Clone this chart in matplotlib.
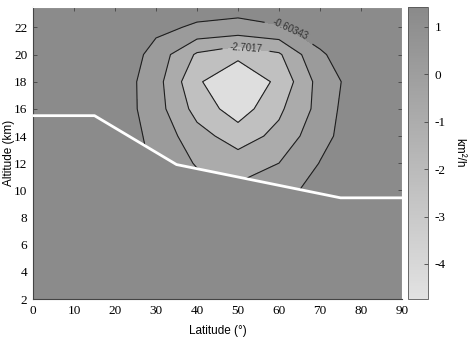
import matplotlib
matplotlib.use("Agg")
import matplotlib.pyplot as plt
import numpy as np
from matplotlib.cm import ScalarMappable
from matplotlib.colors import LinearSegmentedColormap, Normalize

plt.rcParams["axes.unicode_minus"] = False

LAT = [0, 10, 20, 30, 40, 50, 60, 70, 80, 90]
ALT = [2, 4, 6, 8, 10, 12, 14, 16, 18, 20, 22, 24]
# diffusivity (km^2/h), one row per altitude, one column per latitude
K_2 = [1.42, 1.3, 1.2, 1.1, 1.0, 1.0, 1.0, 1.1, 1.2, 1.3]
K_4 = [1.3, 1.2, 1.0, 0.8, 0.6, 0.6, 0.7, 0.9, 1.1, 1.2]
K_6 = [1.1, 1.0, 0.8, 0.5, 0.3, 0.3, 0.4, 0.6, 0.8, 1.0]
K_8 = [1.0, 0.8, 0.5, 0.1, -0.2, -0.25, -0.2, 0.2, 0.5, 0.8]
K_10 = [0.9, 0.7, 0.3, -0.4, -1.2, -1.42, -1.0, -0.2, 0.3, 0.7]
K_12 = [0.8, 0.5, 0.2, -0.78, -1.75, -2.2, -1.65, -0.57, 0.2, 0.6]
K_14 = [0.8, 0.5, 0.05, -0.91, -2.31, -3.2, -2.41, -0.93, 0.06, 0.6]
K_16 = [0.8, 0.6, 0.1, -1.2, -3.08, -4.3, -2.9, -1.3, 0.32, 0.6]
K_18 = [0.8, 0.6, 0.1, -1.23, -3.6, -4.7, -3.5, -1.25, 0.0, 0.5]
K_20 = [0.6, 0.5, 0.3, -1.0, -2.85, -3.47, -2.85, -0.68, -0.2, 0.3]
K_22 = [0.2, 0.1, -0.1, -0.35, -0.75, -0.9, -0.68, -0.3, 0.1, 0.3]
K_24 = [0.5, 0.4, 0.3, 0.1, 0.0, -0.05, 0.1, 0.3, 0.5, 0.6]

LEVELS = [-3.7509, -2.7017, -1.6526, -0.60343]
LABELLED = [-2.7017, -0.60343]
PLAIN = [-3.7509, -1.6526]
CBAR_MIN, CBAR_MAX = -4.74, 1.42
CBAR_TICKS = [-4, -3, -2, -1, 0, 1]

# tropopause
TROP_LAT = [0, 15, 35, 75, 90]
TROP_ALT = [15.5, 15.5, 11.9, 9.45, 9.45]

BG = "#8b8b8b"
BAND_COLORS = ["#dedede", "#c0c0c0", "#ababab", "#9b9b9b", BG]
SERIF = "Liberation Serif"
SANS = "Liberation Sans"


def main():
    field = np.array([K_2, K_4, K_6, K_8, K_10, K_12, K_14, K_16, K_18, K_20, K_22, K_24])

    fig = plt.figure(figsize=(4.77, 3.42), dpi=100)
    ax = fig.add_axes([0.0692, 0.1257, 0.7736, 0.8538])
    ax.set_facecolor(BG)

    ax.contourf(LAT, ALT, field, levels=[-10] + LEVELS + [10], colors=BAND_COLORS, zorder=1)
    line_kw = dict(colors="#1e1e1e", linewidths=0.8, linestyles="solid", zorder=1.5)
    ax.contour(LAT, ALT, field, levels=PLAIN, **line_kw)
    cs = ax.contour(LAT, ALT, field, levels=LABELLED, **line_kw)
    ax.fill_between(TROP_LAT, 2, TROP_ALT, color=BG, lw=0, zorder=2)
    ax.plot(TROP_LAT, TROP_ALT, color="white", lw=2, zorder=3)
    labels = ax.clabel(cs, manual=[(52, 20.6), (63, 22.0)],
                       fmt="%g", fontsize=7, colors="#333333")
    for t in labels:
        t.set_family(SANS)

    ax.set_xlim(0, 90)
    ax.set_ylim(2, 23.5)
    ax.set_xticks(LAT)
    ax.set_yticks(range(2, 23, 2))
    ax.tick_params(direction="in", top=True, right=True, length=3, width=0.6,
                   color="#444444", labelsize=9.5, pad=4, labelfontfamily=SERIF)
    for side, sp in ax.spines.items():
        sp.set_color("#ffffff" if side in ("top", "right") else "#444444")
        sp.set_linewidth(0.8)
    ax.set_xlabel("Latitude (°)", family=SANS, fontsize=8.5, labelpad=6)
    ax.set_ylabel("Altitude (km)", family=SANS, fontsize=8.5)
    ax.yaxis.set_label_coords(-0.05, 0.5)

    cax = fig.add_axes([0.8553, 0.1257, 0.0419, 0.8538])
    cmap = LinearSegmentedColormap.from_list("grey", ["#e2e2e2", "#8a8a8a"])
    cb = fig.colorbar(ScalarMappable(Normalize(CBAR_MIN, CBAR_MAX), cmap), cax=cax)
    cb.set_ticks(CBAR_TICKS)
    cb.outline.set_edgecolor("#555555")
    cb.outline.set_linewidth(0.6)
    cax.tick_params(direction="in", length=3, width=0.6, color="#444444", labelsize=9.5,
                    pad=5, labelfontfamily=SERIF)
    cb.set_label("km²/h", family=SANS, fontsize=8.5, rotation=270, labelpad=14)

    fig.savefig("out.png", dpi=100)
    plt.close(fig)


if __name__ == "__main__":
    main()
